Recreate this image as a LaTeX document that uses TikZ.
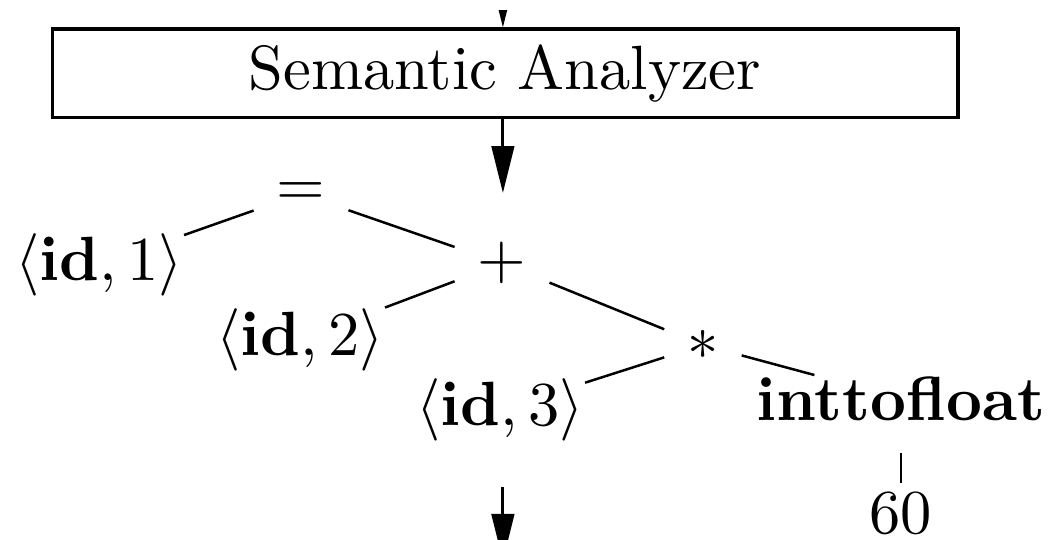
\documentclass[tikz,border=0pt]{standalone}
\usepackage{amsmath}
\usetikzlibrary{arrows.meta}
\tikzset{
  branch/.style={black,line width=0.4pt},
  flow/.style={-{Triangle[length=7.5pt,width=3.6pt]},line width=0.5pt},
  phase/.style={draw=black,line width=0.5pt,minimum width=5.094cm,
                minimum height=0.5cm,inner sep=0pt},
  op/.style={inner sep=3.5pt},
  leaf/.style={inner sep=0pt},
}

\begin{document}
\begin{tikzpicture}[x=1cm,y=1cm]
  \path[use as bounding box] (0,0) rectangle (5.927,3.036);
  \clip (0,-0.3) rectangle (5.927,2.975);

  \node[phase] (sem) at (2.840,2.623) {Semantic Analyzer};
  \coordinate (src) at (2.828,3.4);
  \coordinate (tree) at (2.828,1.951);
  \coordinate (down) at (2.828,0.298);
  \coordinate (next) at (2.828,-0.118);
  \draw[flow] (src) -- (src |- sem.north);
  \draw[flow] (tree |- sem.south) -- (tree);

  \node[op] (eq) at (1.693,1.946) {$=$};
  \node[leaf] (id1) at (0.557,1.546) {$\langle\mathbf{id},1\rangle$};
  \node[op] (plus) at (2.823,1.555) {$+$};
  \node[leaf] (id2) at (1.687,1.126) {$\langle\mathbf{id},2\rangle$};
  \node[op] (star) at (3.953,1.096) {$\ast$};
  \node[leaf] (id3) at (2.812,0.731) {$\langle\mathbf{id},3\rangle$};
  \node[leaf] (itof) at (5.066,0.796) {\textbf{inttofloat}};
  \node[leaf] (sixty) at (5.066,0.152) {$60$};

  \draw[branch] (eq) -- (id1);
  \draw[branch] (eq) -- (plus);
  \draw[branch] (plus) -- (id2);
  \draw[branch] (plus) -- (star);
  \draw[branch] (star) -- (id3);
  \draw[branch] (star) -- (itof);
  \draw[branch,shorten <=5pt,shorten >=1.3pt] (itof) -- (sixty);

  \draw[flow] (down) -- (next);
\end{tikzpicture}
\end{document}
